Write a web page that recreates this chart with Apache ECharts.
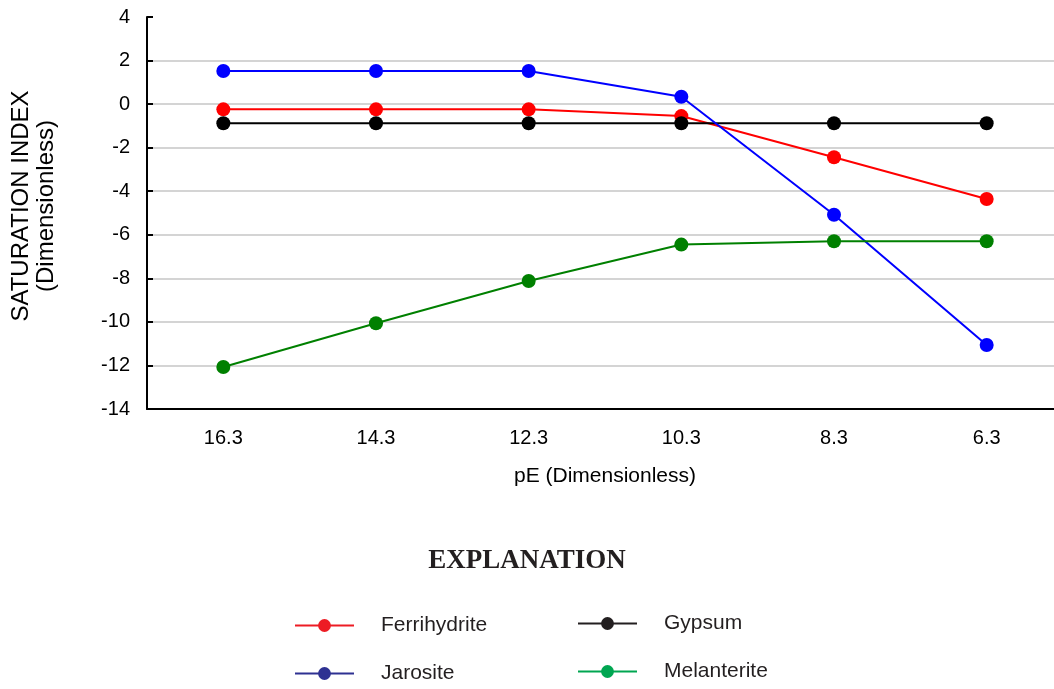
<!DOCTYPE html>
<html>
<head>
<meta charset="utf-8">
<script src="https://cdn.jsdelivr.net/npm/echarts@6/dist/echarts.min.js"></script>
<style>
  html, body { margin: 0; padding: 0; background: #fff; }
  #main { width: 1054px; height: 689px; }
</style>
</head>
<body>
<div id="main"></div>
<script>
var pE = ['16.3', '14.3', '12.3', '10.3', '8.3', '6.3'];
var ferrihydrite = [-0.24, -0.24, -0.24, -0.55, -2.44, -4.36];
var jarosite = [1.52, 1.52, 1.52, 0.34, -5.08, -11.06];
var gypsum = [-0.88, -0.88, -0.88, -0.88, -0.88, -0.88];
var melanterite = [-12.07, -10.06, -8.12, -6.45, -6.3, -6.3];

var chart = echarts.init(document.getElementById('main'), null, { renderer: 'canvas' });

function lineSeries(name, data, color) {
  return {
    name: name,
    type: 'line',
    data: data,
    symbol: 'circle',
    symbolSize: 14,
    itemStyle: { color: color },
    lineStyle: { color: color, width: 2 },
    emphasis: { disabled: true },
    animation: false
  };
}

// one legend box per entry so they sit in two columns like the original
function legendItem(name, color, left, top) {
  return {
    data: [{ name: name, itemStyle: { color: color }, lineStyle: { color: color, width: 2 } }],
    left: left,
    top: top,
    padding: 0,
    itemWidth: 59,
    itemHeight: 16,
    selectedMode: false,
    textStyle: {
      fontFamily: 'Liberation Sans, Arial',
      fontSize: 21,
      color: '#231f20',
      padding: [0, 0, 0, 22]
    }
  };
}

var option = {
  backgroundColor: '#ffffff',
  title: {
    text: 'EXPLANATION',
    left: 'center',
    top: 543,
    textStyle: {
      fontFamily: 'Liberation Serif, Times New Roman',
      fontWeight: 'bold',
      fontSize: 27,
      color: '#231f20'
    }
  },
  legend: [
    legendItem('Ferrihydrite', '#ed1c24', 294, 615),
    legendItem('Gypsum', '#231f20', 577, 613),
    legendItem('Jarosite', '#2e3192', 294, 663),
    legendItem('Melanterite', '#00a651', 577, 661)
  ],
  grid: {
    left: 147,
    top: 17,
    width: 916,
    height: 392,
    outerBoundsMode: 'none'
  },
  xAxis: {
    type: 'category',
    data: pE,
    boundaryGap: true,
    name: 'pE (Dimensionless)',
    nameLocation: 'middle',
    nameGap: 57,
    nameTextStyle: { fontFamily: 'Liberation Sans, Arial', fontSize: 21, color: '#000' },
    axisLine: { onZero: false, lineStyle: { color: '#000', width: 2 } },
    axisTick: { show: false },
    axisLabel: { fontFamily: 'Liberation Sans, Arial', fontSize: 20, color: '#000', margin: 19 },
    splitLine: { show: false }
  },
  yAxis: {
    type: 'value',
    min: -14,
    max: 4,
    interval: 2,
    name: 'SATURATION INDEX\n(Dimensionless)',
    nameLocation: 'middle',
    nameGap: 88,
    nameRotate: 90,
    nameTextStyle: {
      fontFamily: 'Liberation Sans, Arial',
      fontSize: 24,
      color: '#000',
      lineHeight: 25,
      padding: [0, 0, 0, 14]
    },
    axisLine: { show: true, lineStyle: { color: '#000', width: 2 } },
    axisTick: { show: true, inside: true, length: 6, lineStyle: { color: '#000', width: 2 } },
    axisLabel: { fontFamily: 'Liberation Sans, Arial', fontSize: 20, color: '#000', margin: 17 },
    splitLine: { show: true, showMaxLine: false, lineStyle: { color: '#c6c6c6', width: 1.5 } }
  },
  series: [
    lineSeries('Ferrihydrite', ferrihydrite, '#ff0000'),
    lineSeries('Gypsum', gypsum, '#000000'),
    lineSeries('Jarosite', jarosite, '#0000ff'),
    lineSeries('Melanterite', melanterite, '#008000')
  ]
};

chart.setOption(option);
</script>
</body>
</html>
